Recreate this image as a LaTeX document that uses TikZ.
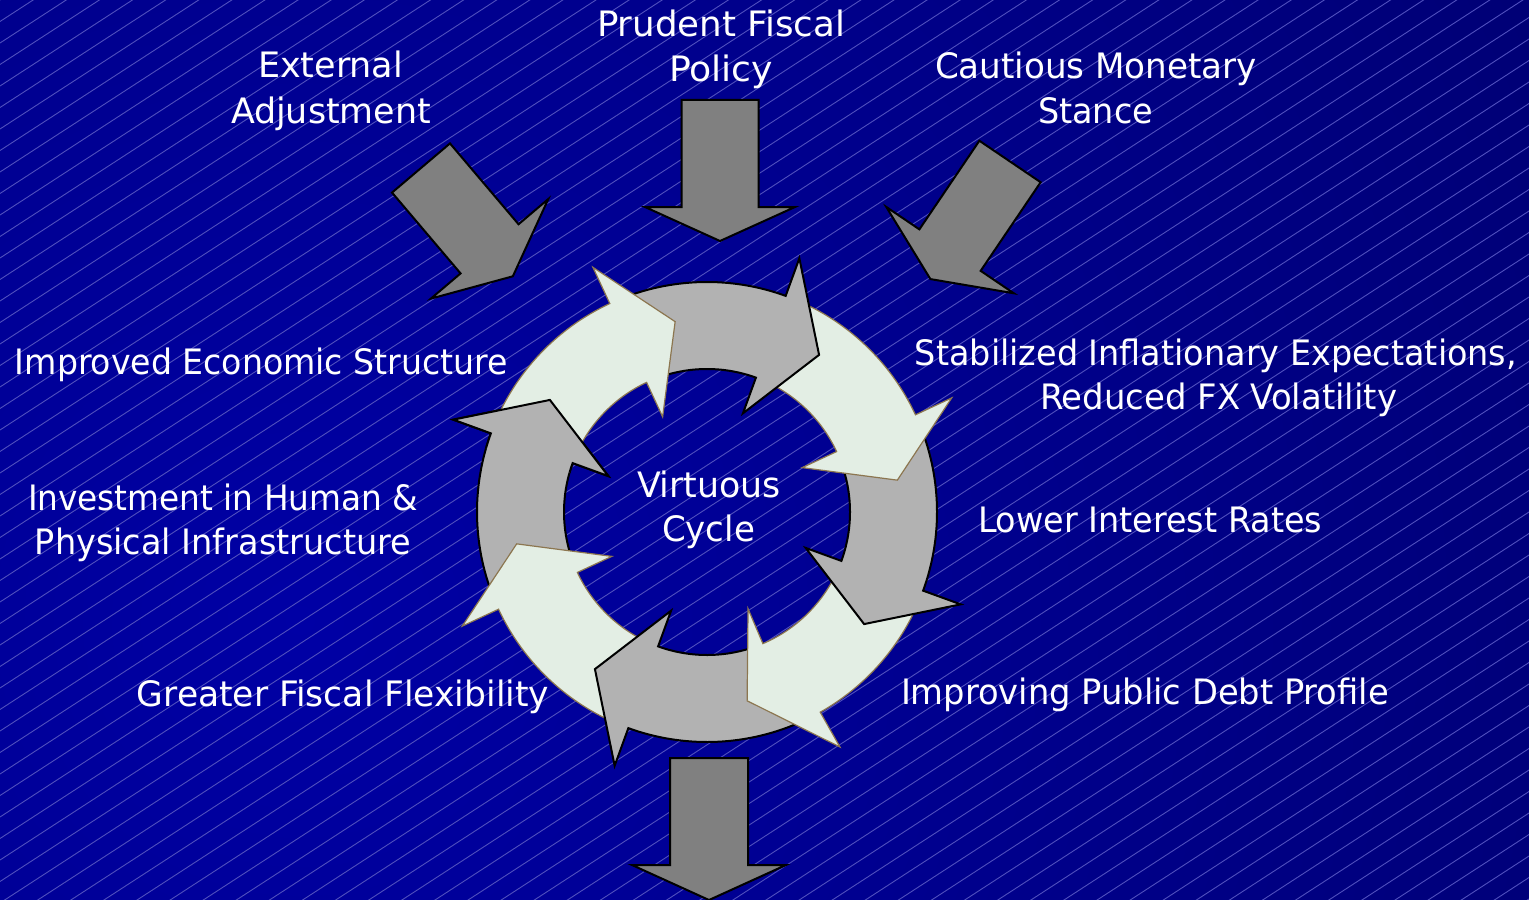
\documentclass[tikz,border=0pt]{standalone}
\usepackage{fontspec}
\usepackage{graphicx}
\newfontfamily\labelfont{DejaVu Sans Condensed}
\definecolor{bgin}{RGB}{0,0,165}
\definecolor{bgout}{RGB}{0,0,72}
\definecolor{hatchcol}{RGB}{80,80,190}
\definecolor{lightfill}{RGB}{227,238,228}
\definecolor{lightedge}{RGB}{140,118,80}
\definecolor{grayfill}{RGB}{178,178,178}
\definecolor{blockfill}{RGB}{128,128,128}

% set a label to a given width (in pt), keeping its height
\newcommand\fitw[2]{\resizebox{#1pt}{\height}{#2}}

% one segment of the ring, running clockwise:
% #1 = angle of the head base on the inner side (the tail starts 43 degrees before it),
% #2 = angle of the head base on the outer side, #3 = angle of the tip, #4 = style
\newcommand\ringarrow[4]{%
  \pgfmathsetmacro\tailang{#1+43}%
  \path[#4] (\tailang:230) arc[start angle=\tailang, end angle=#2, radius=230]
    -- (#2:270) -- (#3:193) -- (#1:105) -- (#1:143)
    arc[start angle=#1, end angle=\tailang, radius=143] -- cycle;
}

% straight block arrow: start point (#1,#2) in screen pixels, direction #3,
% shaft length #4, shaft half width #5, head half width #6, head length #7
\newcommand\blockarrow[7]{%
  \begin{scope}[shift={(#1,-#2)},rotate=#3]
    \path[blockarr] (0,-#5) -- (#4,-#5) -- (#4,-#6) -- (#4+#7,0)
      -- (#4,#6) -- (#4,#5) -- (0,#5) -- cycle;
  \end{scope}
}

\begin{document}
\begin{tikzpicture}[x=0.5pt,y=0.5pt,
  lbl/.style={text=white,inner sep=0pt,anchor=base,
    font=\labelfont\fontsize{17.5}{21}\selectfont},
  hatch/.style={draw=hatchcol,line width=0.45pt},
  lightarr/.style={fill=lightfill,draw=lightedge,line width=0.6pt},
  grayarr/.style={fill=grayfill,draw=black,line width=1pt},
  blockarr/.style={fill=blockfill,draw=black,line width=1pt}]

\useasboundingbox (0,0) rectangle (1529,-899);

% background: dark blue gradient with fine diagonal hatching
\begin{scope}
  \clip (0,0) rectangle (1529,-899);
  \shade[inner color=bgin,outer color=bgout] (300,-620) circle[radius=2700];
  \foreach \c in {-1892,-1870.5,...,0}
    \draw[hatch] (0,\c) -- (1529,\c+993);
\end{scope}

% labels
\node[lbl] (ext1) at (330.5,-78) {\fitw{72.5}{External}};
\node[lbl] (ext2) at (331,-123) {\fitw{100}{Adjustment}};
\node[lbl] (fis1) at (721,-37) {\fitw{124}{Prudent Fiscal}};
\node[lbl] (fis2) at (721,-82) {\fitw{52}{Policy}};
\node[lbl] (mon1) at (1096,-79) {\fitw{161}{Cautious Monetary}};
\node[lbl] (mon2) at (1095.5,-124) {\fitw{57.5}{Stance}};
\node[lbl] (struct) at (261.5,-374) {\fitw{246.5}{Improved Economic Structure}};
\node[lbl] (inv1) at (223,-510) {\fitw{195}{Investment in Human \&}};
\node[lbl] (inv2) at (223,-554) {\fitw{188}{Physical Infrastructure}};
\node[lbl] (flex) at (343,-706) {\fitw{206}{Greater Fiscal Flexibility}};
\node[lbl] (vir1) at (709,-497) {\fitw{72}{Virtuous}};
\node[lbl] (vir2) at (708.5,-541) {\fitw{46.5}{Cycle}};
\node[lbl] (stab1) at (1216,-365) {\fitw{301}{Stabilized Inflationary Expectations,}};
\node[lbl] (stab2) at (1218.5,-409) {\fitw{178.5}{Reduced FX Volatility}};
\node[lbl] (rates) at (1150,-532) {\fitw{172}{Lower Interest Rates}};
\node[lbl] (debt) at (1145,-704) {\fitw{244}{Improving Public Debt Profile}};

% inputs and output
\blockarrow{421}{168}{-49.7}{106}{38}{77}{36}
\blockarrow{720}{100}{-90}{107}{38.5}{75}{34}
\blockarrow{1010}{161.5}{-124.1}{107}{37}{77}{35}
\blockarrow{709}{758}{-90}{107}{39}{77}{35}

% the cycle: each head lies over the tail of the next segment
\begin{scope}[shift={(707,-512)}]
  \ringarrow{-200}{-200}{-215.5}{grayarr}
  \ringarrow{-155}{-155}{-170.5}{lightarr}
  \ringarrow{-110}{-110}{-125.5}{grayarr}
  \ringarrow{-67}{-60.5}{-78}{lightarr}
  \ringarrow{-20}{-20}{-35.5}{grayarr}
  \ringarrow{25}{25}{9.5}{lightarr}
  \ringarrow{70}{70}{54.5}{grayarr}
  \ringarrow{115}{115}{99.5}{lightarr}
  \begin{scope}
    \clip (0,0) -- (-196:330) arc[start angle=-196, end angle=-224, radius=330] -- cycle;
    \ringarrow{-200}{-200}{-215.5}{grayarr}
  \end{scope}
\end{scope}

\end{tikzpicture}
\end{document}
